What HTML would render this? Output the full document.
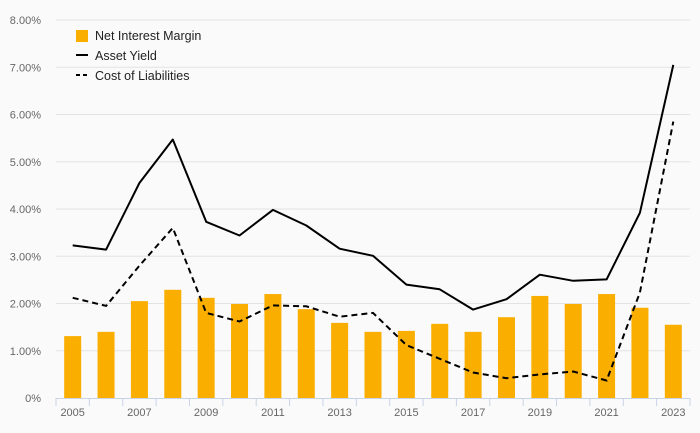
<!DOCTYPE html>
<html><head><meta charset="utf-8"><style>
body{margin:0;background:#fafafa;}
svg{display:block;font-family:"Liberation Sans",sans-serif;}
</style></head><body>
<svg id="chart" width="700" height="433" xmlns="http://www.w3.org/2000/svg">
<rect width="700" height="433" fill="#fafafa"/>
<g id="grid"></g>
<g id="yticks"></g>
<g id="bars"></g>
<g id="lines"></g>
<g id="xaxis"></g>
<g>
<rect x="76" y="30" width="12" height="12" fill="#f9ae00"/>
<text x="95" y="40" font-size="12.5" fill="#222">Net Interest Margin</text>
<line x1="76" y1="55" x2="88" y2="55" stroke="#000" stroke-width="2"/>
<text x="95" y="60" font-size="12.5" fill="#222">Asset Yield</text>
<line x1="76" y1="75" x2="88" y2="75" stroke="#000" stroke-width="2" stroke-dasharray="4,3"/>
<text x="95" y="80" font-size="12.5" fill="#222">Cost of Liabilities</text>
</g>
</svg>
<script>
const years=[2005,2006,2007,2008,2009,2010,2011,2012,2013,2014,2015,2016,2017,2018,2019,2020,2021,2022,2023];
const nim=[1.31,1.40,2.05,2.29,2.12,1.99,2.20,1.88,1.59,1.40,1.42,1.57,1.40,1.71,2.16,1.99,2.20,1.91,1.55];
const assetYield=[3.23,3.14,4.55,5.47,3.73,3.44,3.98,3.65,3.16,3.01,2.40,2.30,1.87,2.09,2.61,2.48,2.51,3.92,7.05];
const costLiab=[2.12,1.95,2.80,3.60,1.80,1.62,1.96,1.94,1.72,1.80,1.12,0.83,0.54,0.42,0.50,0.56,0.37,2.23,5.85];
const yTicks=[0,1,2,3,4,5,6,7,8];
const yTickLabels=["0%","1.00%","2.00%","3.00%","4.00%","5.00%","6.00%","7.00%","8.00%"];
const NS="http://www.w3.org/2000/svg";
const x0=56,x1=690,y0=398,y8=20;
const step=(x1-x0)/years.length;
function xs(i){return x0+step*(i+0.5);}
function ys(v){return y0-(y0-y8)*v/8;}
function mk(tag,attrs,parent){const e=document.createElementNS(NS,tag);for(const k in attrs)e.setAttribute(k,attrs[k]);parent.appendChild(e);return e;}
const grid=document.getElementById('grid'),yt=document.getElementById('yticks');
yTicks.forEach((v,i)=>{
  if(v>0){const l=mk('line',{x1:x0,x2:x1,y1:ys(v),y2:ys(v),stroke:'#e3e3e3','stroke-width':1},grid);
  
  }
  const t=mk('text',{x:41,y:ys(v)+4,'text-anchor':'end','font-size':11,fill:'#666'},yt);
  t.textContent=yTickLabels[i];
  
  
});
const bars=document.getElementById('bars');
nim.forEach((v,i)=>{
  const r=mk('rect',{x:xs(i)-8.5,y:ys(v),width:17,height:y0-ys(v),fill:'#f9ae00'},bars);
  
  
});
const lines=document.getElementById('lines');
function pts(a){return a.map((v,i)=>xs(i).toFixed(1)+','+ys(v).toFixed(1)).join(' ');}
const la=mk('polyline',{points:pts(assetYield),fill:'none',stroke:'#000','stroke-width':2,'stroke-linejoin':'round'},lines);


const lc=mk('polyline',{points:pts(costLiab),fill:'none',stroke:'#000','stroke-width':2,'stroke-dasharray':'6,4'},lines);


const xa=document.getElementById('xaxis');
const ax=mk('line',{x1:x0,x2:x1,y1:y0+0.5,y2:y0+0.5,stroke:'#c8d3e6','stroke-width':1},xa);


for(let i=0;i<=years.length;i++){
  const t=mk('line',{x1:x0+step*i,x2:x0+step*i,y1:y0,y2:y0+8,stroke:'#c8d3e6','stroke-width':1},xa);
  
  
}
years.forEach((y,i)=>{if(i%2==0){
  const t=mk('text',{x:xs(i),y:416,'text-anchor':'middle','font-size':11,fill:'#666'},xa);
  t.textContent=y;
  
  
}});
</script>
</body></html>
